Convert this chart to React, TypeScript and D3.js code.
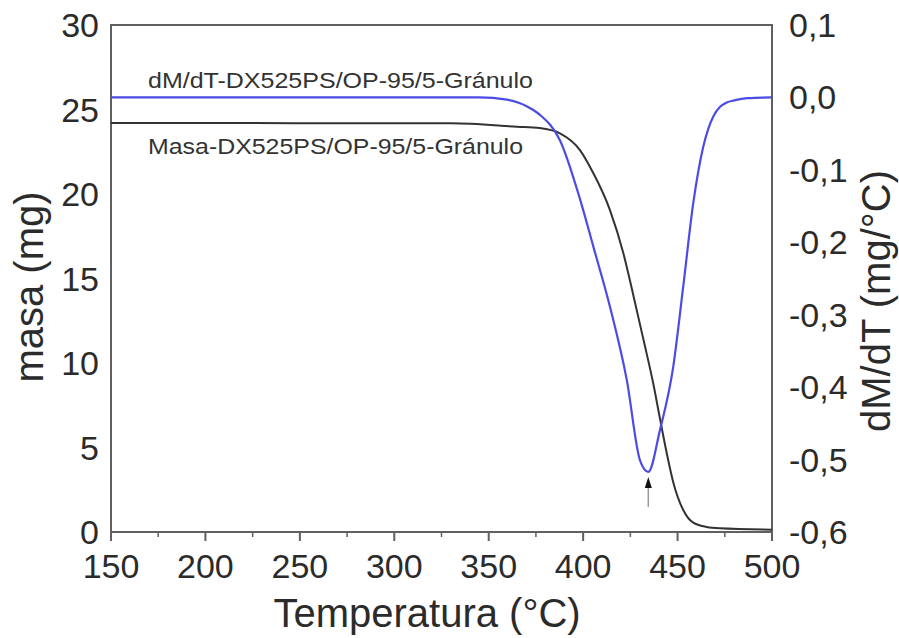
import React from "react";
import * as d3 from "d3";

const xTicks = [150, 200, 250, 300, 350, 400, 450, 500];
const xMinorTicks = [175, 225, 275, 325, 375, 425, 475];
const leftTicks = [0, 5, 10, 15, 20, 25, 30];
const rightTicks = [-0.6, -0.5, -0.4, -0.3, -0.2, -0.1, 0.0, 0.1];

const massTemp = [150, 330, 365, 377, 387.7, 398.3, 405.4, 414.2, 421.3, 426.6, 431.9, 437.1, 440.7, 444.2, 447.7, 453, 458.3, 465.4, 472.3, 500];
const massVal = [24.2, 24.18, 23.98, 23.9, 23.59, 22.6, 21.23, 19.05, 16.49, 14.0, 11.4, 8.8, 6.7, 4.7, 2.95, 1.3, 0.55, 0.3, 0.22, 0.14];

const dtgTemp = [150, 345, 359.7, 373.4, 377.1, 387.7, 398.3, 405.4, 414.2, 423.1, 430.1, 434.5, 440.7, 447.7, 453, 458.3, 463.6, 466.3, 469, 472.5, 476, 480, 487, 500];
const dtgVal = [0, 0, -0.003, -0.017, -0.024, -0.059, -0.14, -0.206, -0.289, -0.39, -0.501, -0.517, -0.459, -0.372, -0.261, -0.146, -0.068, -0.043, -0.026, -0.013, -0.007, -0.004, -0.001, 0];

const peakTemp = 434.5;
const peakVal = -0.517;

const dtgLabel = "dM/dT-DX525PS/OP-95/5-Gránulo";
const massLabel = "Masa-DX525PS/OP-95/5-Gránulo";

const W = 899, H = 638;
const L = 111, R = 772, T = 25, B = 532;
const FONT = "'Liberation Sans', Arial, sans-serif";
const TXT = "#2b2b2b";

export default function App() {
  const x = d3.scaleLinear().domain([150, 500]).range([L, R]);
  const yL = d3.scaleLinear().domain([0, 30]).range([B, T]);
  const yR = d3.scaleLinear().domain([-0.6, 0.1]).range([B, T]);

  const massLine = d3.line<number>().x((_, i) => x(massTemp[i])).y((v) => yL(v)).curve(d3.curveMonotoneX);
  const dtgLine = d3.line<number>().x((_, i) => x(dtgTemp[i])).y((v) => yR(v)).curve(d3.curveMonotoneX);

  const fmtR = (v: number) => d3.format(".1f")(v).replace(".", ",").replace("−", "-");
  const ax = x(peakTemp);
  const ay = yR(peakVal);

  return (
    <svg width={W} height={H} style={{ position: "absolute", left: 0, top: 0, background: "#fff" }} fontFamily={FONT}>
      <rect x={0} y={0} width={W} height={H} fill="#fff" />
      <defs>
        <clipPath id="plot"><rect x={L} y={T} width={R - L} height={B - T} /></clipPath>
      </defs>
      <rect x={L} y={T} width={R - L} height={B - T} fill="none" stroke="#606060" strokeWidth={2} />
      {xTicks.map((t) => (
        <line key={"M" + t} x1={x(t)} x2={x(t)} y1={B} y2={B + 9} stroke="#606060" strokeWidth={2} />
      ))}
      {xMinorTicks.map((t) => (
        <line key={"m" + t} x1={x(t)} x2={x(t)} y1={B} y2={B + 5} stroke="#606060" strokeWidth={1.5} />
      ))}
      {xTicks.map((t) => (
        <text key={"xl" + t} x={x(t)} y={578} fontSize={34} fill={TXT} textAnchor="middle">{t}</text>
      ))}
      {leftTicks.map((t) => (
        <text key={"yl" + t} x={99} y={yL(t) + 12} fontSize={34} fill={TXT} textAnchor="end">{t}</text>
      ))}
      {rightTicks.map((t) => (
        <text key={"yr" + t} x={789} y={yR(t) + 12} fontSize={34} fill={TXT} textAnchor="start">{fmtR(t)}</text>
      ))}
      <text x={427} y={627} fontSize={40} fill={TXT} textAnchor="middle">Temperatura (°C)</text>
      <text transform={`translate(43,287) rotate(-90)`} fontSize={40} fill={TXT} textAnchor="middle">masa (mg)</text>
      <text transform={`translate(890,301) rotate(-90)`} fontSize={40} fill={TXT} textAnchor="middle">dM/dT (mg/°C)</text>
      <g clipPath="url(#plot)">
        <path d={massLine(massVal) || ""} fill="none" stroke="#333" strokeWidth={2} />
        <path d={dtgLine(dtgVal) || ""} fill="none" stroke="#4b4be6" strokeWidth={2.2} />
      </g>
      <text x={148} y={88} fontSize={22} fill="#333" textLength={385} lengthAdjust="spacingAndGlyphs">{dtgLabel}</text>
      <text x={148} y={154} fontSize={22} fill="#333" textLength={375} lengthAdjust="spacingAndGlyphs">{massLabel}</text>
      <line x1={ax} x2={ax} y1={ay + 15} y2={ay + 35} stroke="#999" strokeWidth={1.5} />
      <path d={`M${ax},${ay + 5} L${ax - 3.5},${ay + 16} L${ax + 3.5},${ay + 16} Z`} fill="#111" />
    </svg>
  );
}
